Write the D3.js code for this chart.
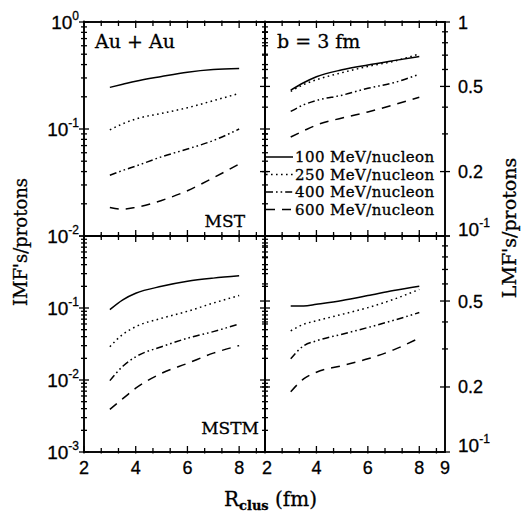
<!DOCTYPE html>
<html>
<head>
<meta charset="utf-8">
<script src="https://cdn.jsdelivr.net/npm/d3@7"></script>
<style>
	body { margin: 0; background: #fff; }
	text { fill: #000; stroke: #000; stroke-width: 0.3px; }
</style>
</head>
<body>
<script>

	var width = 529;
	var height = 518;

	// cluster radius values where the curves were sampled
	var rClus = [3, 3.5, 4, 5, 6, 7, 8];
	var energies = ["100 MeV/nucleon", "250 MeV/nucleon", "400 MeV/nucleon", "600 MeV/nucleon"];
	var dashes = [null, "1.6,3.4", "7,3,1.6,3,1.6,3", "9,7"];

	// IMF's/protons, MST (top left), one row per energy
	var imfMst = [
		[0.245, 0.262, 0.28, 0.31, 0.34, 0.36, 0.368],
		[0.098, 0.112, 0.124, 0.14, 0.158, 0.184, 0.215],
		[0.037, 0.041, 0.045, 0.055, 0.065, 0.078, 0.1],
		[0.0185, 0.0178, 0.0185, 0.0215, 0.0265, 0.035, 0.047]
	];
	// LMF's/protons, MST (top right)
	var lmfMst = [
		[0.48, 0.52, 0.555, 0.598, 0.63, 0.66, 0.69],
		[0.474, 0.51, 0.537, 0.58, 0.62, 0.655, 0.71],
		[0.382, 0.41, 0.43, 0.455, 0.49, 0.52, 0.57],
		[0.29, 0.31, 0.33, 0.356, 0.38, 0.41, 0.445]
	];
	// IMF's/protons, MSTM (bottom left)
	var imfMstm = [
		[0.095, 0.13, 0.16, 0.2, 0.235, 0.26, 0.28],
		[0.029, 0.043, 0.055, 0.072, 0.09, 0.117, 0.149],
		[0.0098, 0.0155, 0.021, 0.029, 0.038, 0.047, 0.06],
		[0.0039, 0.0055, 0.0077, 0.0124, 0.017, 0.0236, 0.03]
	];
	// LMF's/protons, MSTM (bottom right)
	var lmfMstm = [
		[0.474, 0.474, 0.483, 0.503, 0.53, 0.56, 0.586],
		[0.364, 0.39, 0.405, 0.434, 0.466, 0.509, 0.566],
		[0.27, 0.31, 0.327, 0.351, 0.377, 0.407, 0.442],
		[0.19, 0.218, 0.234, 0.251, 0.27, 0.297, 0.337]
	];

	var xTickLabelsLeft = [2, 4, 6, 8];
	var xTickLabelsRight = [2, 4, 6, 8, 9];
	var imfTopLabels = [0, -1, -2];
	var imfBottomLabels = [-1, -2, -3];
	var lmfTopLabels = [1, 0.5, 0.2, 0.1];
	var lmfBottomLabels = [0.5, 0.2, 0.1];

	var svg = d3.select("body").append("svg").attr("width", width)
			.attr("height", height);

	var xLeft = d3.scaleLinear().domain([2, 9]).range([84, 265]);
	var xRight = d3.scaleLinear().domain([2, 9]).range([265, 445]);
	var yImfTop = d3.scaleLog().domain([1e-2, 1]).range([236, 22]);
	var yImfBottom = d3.scaleLog().domain([1e-3, 1]).range([452, 236]);
	var yLmfTop = d3.scaleLog().domain([0.1, 1]).range([236, 22]);
	var yLmfBottom = d3.scaleLog().domain([0.1, 1]).range([452, 236]);

	var panels = [
		{ x: xLeft, y: yImfTop, data: imfMst, lmf: false },
		{ x: xRight, y: yLmfTop, data: lmfMst, lmf: true },
		{ x: xLeft, y: yImfBottom, data: imfMstm, lmf: false },
		{ x: xRight, y: yLmfBottom, data: lmfMstm, lmf: true }
	];

	function isMajor(v, lmf) {
		if (lmf) return [0.1, 0.2, 0.5, 1].some(function(m) { return Math.abs(m - v) < 1e-9; });
		var l = Math.log10(v);
		return Math.abs(l - Math.round(l)) < 1e-9;
	}

	function drawPanel(p) {
		var g = svg.append("g");
		var x0 = p.x.range()[0], x1 = p.x.range()[1];
		var y0 = p.y.range()[1], y1 = p.y.range()[0];

		// x ticks every 2/3 unit, larger at the labelled values
		var xt = d3.range(0, 11).map(function(i) { return 2 + i * 2 / 3; });
		xt.forEach(function(v) {
			var big = Math.abs(v - Math.round(v)) < 1e-6 && Math.round(v) % 2 === 0;
			var len = big ? 6 : 4;
			var px = p.x(v);
			g.append("line").attr("x1", px).attr("x2", px).attr("y1", y1 + 1.5).attr("y2", y1 - len);
			g.append("line").attr("x1", px).attr("x2", px).attr("y1", y0 - 1.5).attr("y2", y0 + len);
		});

		// y ticks on both sides
		p.y.ticks().forEach(function(v) {
			var py = p.y(v);
			var len = isMajor(v, p.lmf) ? 5 : 3;
			g.append("line").attr("x1", x0 - len).attr("x2", x0 + len).attr("y1", py).attr("y2", py);
			g.append("line").attr("x1", x1 - len).attr("x2", x1 + len).attr("y1", py).attr("y2", py);
		});
		g.selectAll("line").attr("stroke", "#000").attr("stroke-width", 1.3);

		g.append("rect").attr("x", x0).attr("y", y0).attr("width", x1 - x0)
				.attr("height", y1 - y0).attr("fill", "none").attr("stroke", "#000")
				.attr("stroke-width", 1.9);

		var line = d3.line().x(function(d, i) { return p.x(rClus[i]); })
				.y(function(d) { return p.y(d); }).curve(d3.curveMonotoneX);
		g.selectAll("path.curve").data(p.data).enter().append("path")
				.attr("class", "curve").attr("d", line).attr("fill", "none")
				.attr("stroke", "#000").attr("stroke-width", 1.5)
				.attr("stroke-dasharray", function(d, i) { return dashes[i]; });
	}

	panels.forEach(drawPanel);

	var sans = "'Liberation Sans', Arial, sans-serif";
	var serif = "'DejaVu Serif', serif";

	// decade labels: 10 with a raised exponent
	function powerLabel(x, py, exp, anchor) {
		var t = svg.append("text").attr("x", x).attr("y", py + 7)
				.attr("text-anchor", anchor).attr("font-family", sans)
				.attr("font-size", 19).text("10");
		t.append("tspan").attr("dy", -9).attr("font-size", 12)
				.text(exp === 0 ? "0" : "-" + (-exp));
	}
	imfTopLabels.forEach(function(e) { powerLabel(79, yImfTop(Math.pow(10, e)), e, "end"); });
	imfBottomLabels.forEach(function(e) { powerLabel(79, yImfBottom(Math.pow(10, e)), e, "end"); });

	// right labels
	function lmfLabel(scale, v) {
		var py = scale(v);
		if (v === 0.1) {
			powerLabel(458, py - 7, -1, "start");
		} else {
			svg.append("text").attr("x", 458).attr("y", py + 6.5)
					.attr("font-family", sans).attr("font-size", 18).text(v);
		}
	}
	lmfTopLabels.forEach(function(v) { lmfLabel(yLmfTop, v); });
	lmfBottomLabels.forEach(function(v) { lmfLabel(yLmfBottom, v); });

	// x tick labels
	xTickLabelsLeft.forEach(function(v) {
		svg.append("text").attr("x", xLeft(v)).attr("y", 474).attr("text-anchor", "middle")
				.attr("font-family", sans).attr("font-size", 18).text(v);
	});
	xTickLabelsRight.forEach(function(v) {
		svg.append("text").attr("x", xRight(v) + (v === 2 ? 2 : 0)).attr("y", 474)
				.attr("text-anchor", "middle").attr("font-family", sans)
				.attr("font-size", 18).text(v);
	});

	// annotations
	svg.append("text").attr("x", 95).attr("y", 48).attr("font-family", serif)
			.attr("font-size", 19).text("Au + Au");
	svg.append("text").attr("x", 277).attr("y", 48).attr("font-family", serif)
			.attr("font-size", 19).text("b = 3 fm");
	svg.append("text").attr("x", 245).attr("y", 227).attr("text-anchor", "end")
			.attr("font-family", serif).attr("font-size", 17).text("MST");
	svg.append("text").attr("x", 259).attr("y", 434).attr("text-anchor", "end")
			.attr("font-family", serif).attr("font-size", 17).text("MSTM");

	// legend
	energies.forEach(function(e, i) {
		var by = 162 + i * 17.5;
		svg.append("line").attr("x1", 266).attr("x2", 293).attr("y1", by - 5).attr("y2", by - 5)
				.attr("stroke", "#000").attr("stroke-width", 1.5)
				.attr("stroke-dasharray", dashes[i]);
		svg.append("text").attr("x", 295).attr("y", by).attr("font-family", serif)
				.attr("font-size", 15).attr("letter-spacing", 0.4).text(e);
	});

	// axis titles
	svg.append("text").attr("transform", "translate(27,242) rotate(-90)")
			.attr("text-anchor", "middle").attr("font-family", serif)
			.attr("font-size", 18).text("IMF's/protons");
	svg.append("text").attr("transform", "translate(516,228) rotate(-90)")
			.attr("text-anchor", "middle").attr("font-family", serif)
			.attr("font-size", 19).text("LMF's/protons");

	var xt = svg.append("text").attr("x", 224).attr("y", 506)
			.attr("font-family", serif).attr("font-size", 20).text("R");
	xt.append("tspan").attr("dy", 4).attr("font-size", 13).attr("font-weight", "bold").text("clus");
	xt.append("tspan").attr("dy", -4).text(" (fm)");

</script>
</body>
</html>
